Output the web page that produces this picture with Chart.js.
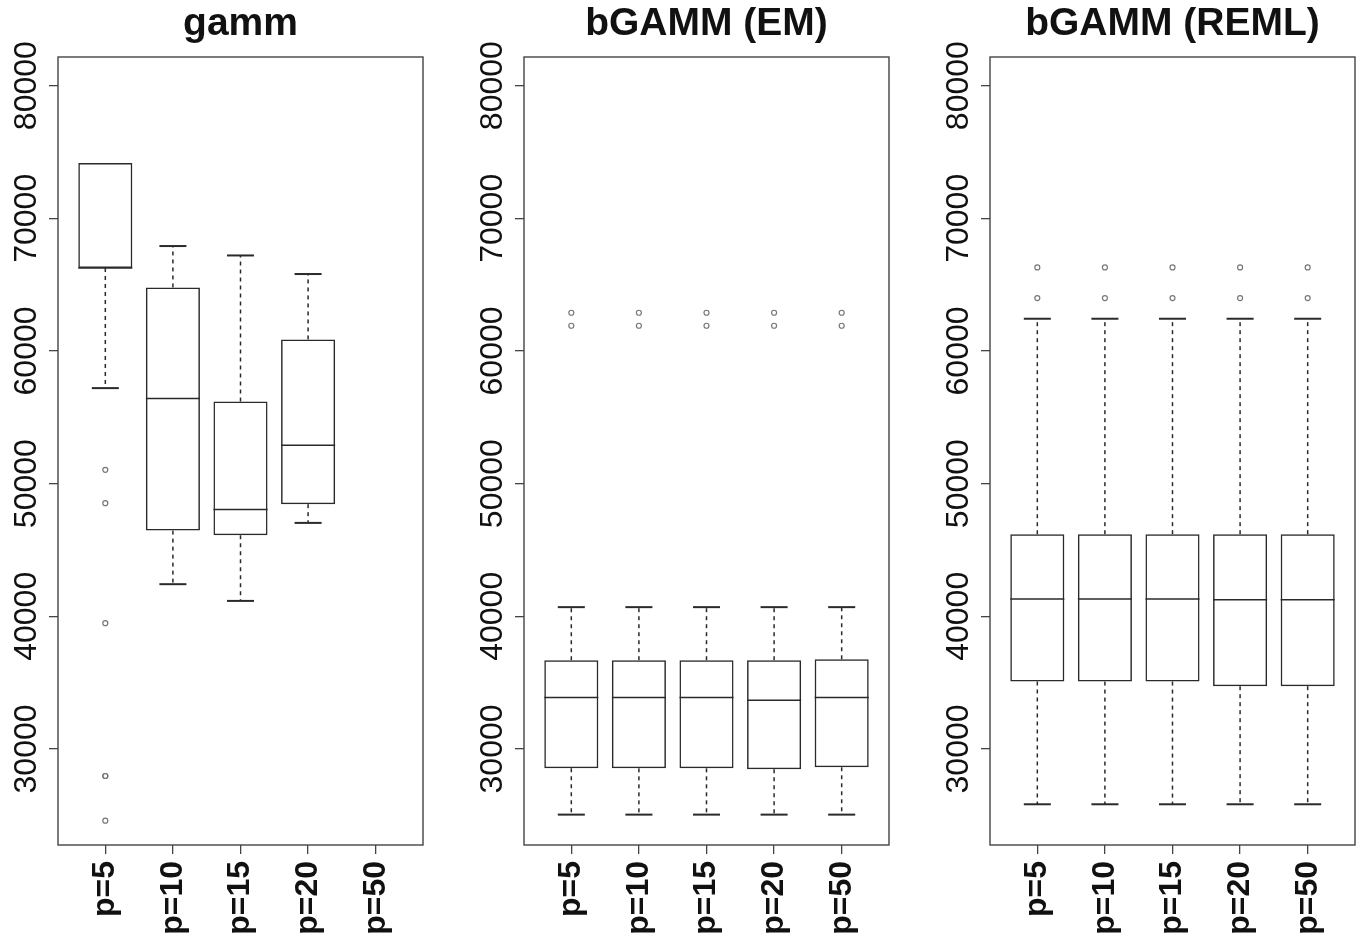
<!DOCTYPE html>
<html>
<head>
<meta charset="utf-8">
<script src="https://cdn.jsdelivr.net/npm/chart.js@4"></script>
<style>
    html, body { margin: 0; padding: 0; background: #fff; }
    body { width: 1363px; height: 946px; position: relative; overflow: hidden; }
    canvas { position: absolute; top: 0; }
</style>
</head>
<body>
<canvas id="gamm_plot" width="431" height="946" style="left:0px"></canvas>
<canvas id="em_plot" width="431" height="946" style="left:466px"></canvas>
<canvas id="reml_plot" width="431" height="946" style="left:932px"></canvas>
<script>
'use strict';

var categories = ['p=5', 'p=10', 'p=15', 'p=20', 'p=50'];
var yTicks = [30000, 40000, 50000, 60000, 70000, 80000];
var yMin = 22760;
var yMax = 82160;

// gamm
var gammLow = [57200, 42420, 41160, 47040, null];
var gammQ1 = [66250, 46460, 46110, 48450, null];
var gammMedian = [66250, 56420, 48050, 52900, null];
var gammQ3 = [74170, 64790, 56190, 60870, null];
var gammHigh = [74170, 67910, 67200, 65800, null];
var gammOutliers = [[51040, 48530, 39480, 27960, 27960, 24590], [], [], [], []];

// bGAMM (EM)
var emLow = [25050, 25050, 25050, 25050, 25050];
var emQ1 = [28540, 28540, 28540, 28470, 28620];
var emMedian = [33870, 33870, 33870, 33670, 33870];
var emQ3 = [36690, 36690, 36690, 36690, 36760];
var emHigh = [40690, 40690, 40690, 40690, 40690];
var emOutliers = [[62880, 61900], [62880, 61900], [62880, 61900], [62880, 61900], [62880, 61900]];

// bGAMM (REML)
var remlLow = [25830, 25830, 25830, 25830, 25830];
var remlQ1 = [35080, 35080, 35080, 34730, 34730];
var remlMedian = [41310, 41310, 41310, 41240, 41240];
var remlQ3 = [46190, 46190, 46190, 46190, 46190];
var remlHigh = [62430, 62430, 62430, 62430, 62430];
var remlOutliers = [[66300, 63990], [66300, 63990], [66300, 63990], [66300, 63990], [66300, 63990]];

var FONT = 'Liberation Sans';

/**
 * Whiskers, medians, frame and rotated y labels, all placed through the chart scales.
 */
function BoxWhiskerPlugin(stats) {
    return {
        id: 'boxWhiskers',
        afterDatasetsDraw: function (chart) {
            var ctx = chart.ctx;
            var xs = chart.scales.x;
            var ys = chart.scales.y;
            var area = chart.chartArea;

            function seg(x1, y1, x2, y2) {
                ctx.beginPath();
                ctx.moveTo(x1, y1);
                ctx.lineTo(x2, y2);
                ctx.stroke();
            }

            ctx.save();
            ctx.strokeStyle = '#2a2a2a';
            categories.forEach(function (c, i) {
                if (stats.q1[i] === null) {
                    return;
                }
                var x = xs.getPixelForValue(i + 1);
                var boxL = xs.getPixelForValue(i + 1 - 0.4);
                var boxR = xs.getPixelForValue(i + 1 + 0.4);
                var stL = xs.getPixelForValue(i + 1 - 0.2);
                var stR = xs.getPixelForValue(i + 1 + 0.2);
                var yQ1 = ys.getPixelForValue(stats.q1[i]);
                var yQ3 = ys.getPixelForValue(stats.q3[i]);
                var yLow = ys.getPixelForValue(stats.low[i]);
                var yHigh = ys.getPixelForValue(stats.high[i]);
                var yMed = ys.getPixelForValue(stats.median[i]);

                ctx.lineWidth = 1.5;
                seg(boxL, yMed, boxR, yMed);

                // whisker and staple only where they reach past the box
                if (stats.high[i] > stats.q3[i]) {
                    ctx.lineWidth = 1.5;
                    ctx.setLineDash([4, 4]);
                    seg(x, yQ3, x, yHigh);
                    ctx.setLineDash([]);
                    ctx.lineWidth = 2;
                    seg(stL, yHigh, stR, yHigh);
                }
                if (stats.low[i] < stats.q1[i]) {
                    ctx.lineWidth = 1.5;
                    ctx.setLineDash([4, 4]);
                    seg(x, yQ1, x, yLow);
                    ctx.setLineDash([]);
                    ctx.lineWidth = 2;
                    seg(stL, yLow, stR, yLow);
                }
            });

            ctx.strokeStyle = '#444';
            ctx.lineWidth = 1.4;
            ctx.strokeRect(area.left, area.top, area.right - area.left, area.bottom - area.top);
            ctx.restore();
        },
        afterDraw: function (chart) {
            var ctx = chart.ctx;
            var ys = chart.scales.y;
            var area = chart.chartArea;
            ctx.save();
            ctx.fillStyle = '#111';
            ctx.font = '32px "' + FONT + '"';
            ctx.textAlign = 'center';
            ctx.textBaseline = 'alphabetic';
            yTicks.forEach(function (v) {
                ctx.save();
                ctx.translate(area.left - 22, ys.getPixelForValue(v));
                ctx.rotate(-Math.PI / 2);
                ctx.fillText(String(v), 0, 0);
                ctx.restore();
            });
            ctx.restore();
        }
    };
}

function DrawBoxChart(container, title, stats) {
    var ctx = document.getElementById(container).getContext('2d');
    var boxes = [];
    var points = [];
    categories.forEach(function (c, i) {
        if (stats.q1[i] !== null) {
            boxes.push({x: i + 1, y: [stats.q1[i], stats.q3[i]]});
        }
        stats.outliers[i].forEach(function (v) {
            points.push({x: i + 1, y: v});
        });
    });

    new Chart(ctx, {
        type: 'bar',
        data: {
            datasets: [{
                type: 'bar',
                data: boxes,
                backgroundColor: 'rgba(255,255,255,0)',
                borderColor: '#2a2a2a',
                borderWidth: 1.5,
                borderSkipped: false,
                categoryPercentage: 1,
                barPercentage: 0.8,
                grouped: false
            }, {
                type: 'scatter',
                data: points,
                pointStyle: 'circle',
                pointRadius: 2.5,
                borderColor: '#777',
                backgroundColor: 'rgba(255,255,255,0)',
                borderWidth: 1.2
            }]
        },
        options: {
            responsive: false,
            animation: false,
            layout: {
                padding: {left: 0, right: 8, top: 0, bottom: 0}
            },
            plugins: {
                legend: {
                    display: false
                },
                tooltip: {
                    enabled: false
                },
                title: {
                    display: true,
                    text: title,
                    fullSize: false,
                    color: '#111',
                    font: {family: FONT, size: 39, weight: 'bold', lineHeight: 1},
                    padding: {top: 5, bottom: 13}
                }
            },
            scales: {
                x: {
                    type: 'linear',
                    min: 0.3,
                    max: 5.7,
                    offset: false,
                    grid: {
                        offset: false,
                        drawOnChartArea: false,
                        tickLength: 9,
                        color: '#444',
                        lineWidth: 1.3
                    },
                    border: {
                        display: false
                    },
                    ticks: {
                        autoSkip: false,
                        minRotation: 90,
                        maxRotation: 90,
                        padding: 7,
                        color: '#111',
                        font: {family: FONT, size: 32, weight: 'bold'},
                        callback: function (value) {
                            return categories[value - 1];
                        }
                    },
                    afterBuildTicks: function (scale) {
                        scale.ticks = categories.map(function (c, i) {
                            return {value: i + 1};
                        });
                    },
                    afterFit: function (scale) {
                        scale.height = 101;
                    }
                },
                y: {
                    min: yMin,
                    max: yMax,
                    grid: {
                        drawOnChartArea: false,
                        tickLength: 9,
                        color: '#444',
                        lineWidth: 1.3
                    },
                    border: {
                        display: false
                    },
                    ticks: {
                        display: false
                    },
                    afterBuildTicks: function (scale) {
                        scale.ticks = yTicks.map(function (v) {
                            return {value: v};
                        });
                    },
                    afterFit: function (scale) {
                        scale.width = 58;
                    }
                }
            }
        },
        plugins: [BoxWhiskerPlugin(stats)]
    });
}

DrawBoxChart('gamm_plot', 'gamm', {
    low: gammLow, q1: gammQ1, median: gammMedian, q3: gammQ3, high: gammHigh, outliers: gammOutliers
});
DrawBoxChart('em_plot', 'bGAMM (EM)', {
    low: emLow, q1: emQ1, median: emMedian, q3: emQ3, high: emHigh, outliers: emOutliers
});
DrawBoxChart('reml_plot', 'bGAMM (REML)', {
    low: remlLow, q1: remlQ1, median: remlMedian, q3: remlQ3, high: remlHigh, outliers: remlOutliers
});
</script>
</body>
</html>
